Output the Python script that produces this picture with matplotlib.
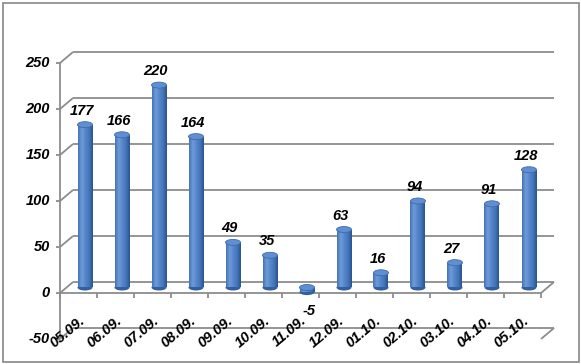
import matplotlib
matplotlib.use('Agg')
import numpy as np
import matplotlib.pyplot as plt
from matplotlib.patches import Ellipse, Rectangle
from matplotlib.colors import LinearSegmentedColormap

# data
dates = ['05.09.', '06.09.', '07.09.', '08.09.', '09.09.', '10.09.', '11.09.',
         '12.09.', '01.10.', '02.10.', '03.10.', '04.10.', '05.10.']
values = [177, 166, 220, 164, 49, 35, -5, 63, 16, 94, 27, 91, 128]
y_ticks = [-50, 0, 50, 100, 150, 200, 250]

plt.rcParams['font.family'] = ['Liberation Sans', 'DejaVu Sans']

W, H = 581, 364
fig = plt.figure(figsize=(W / 100, H / 100), dpi=100)
ax = fig.add_axes([0, 0, 1, 1])

# layout in pixels: first category edge / zero line, size of one category / one unit
x0_px, cat_px = 60, 37
y0_px, unit_px = 293, 0.92
ax.set_xlim(-x0_px / cat_px, (W - x0_px) / cat_px)
ax.set_ylim(-(H - y0_px) / unit_px, y0_px / unit_px)
ax.axis('off')

n = len(dates)
DX, DY = 13 / cat_px, 11 / unit_px   # 3D depth offset
grid_kw = dict(color='#8c8c8c', lw=1.3, solid_capstyle='butt', zorder=1)
txt_kw = dict(fontsize=10.5, fontweight='bold', fontstyle='italic', color='black')

# back wall gridlines with left diagonals
for t in y_ticks:
    ax.plot([DX, n + DX], [t + DY, t + DY], **grid_kw)
    ax.plot([0, DX], [t, t + DY], **grid_kw)
# bottom floor right edge
ax.plot([n, n + DX], [y_ticks[0], y_ticks[0] + DY], **grid_kw)

# zero floor front edge with ticks
ax.plot([0, n], [0, 0], **grid_kw)
ax.plot([n, n + DX], [0, DY], **grid_kw)
for i in range(n + 1):
    ax.plot([i, i], [0, -5 / unit_px], **grid_kw)

# value axis
ax.plot([0, 0], [y_ticks[0], y_ticks[-1]], **grid_kw)
for t in y_ticks:
    ax.plot([-4 / cat_px, 0], [t, t], **grid_kw)
    ax.text(-10 / cat_px, t, str(t), ha='right', va='center', **txt_kw)

# cylinder bars
cmap = LinearSegmentedColormap.from_list(
    'cyl', ['#4472b5', '#6e9cd9', '#5686c9', '#4376ba', '#2b538e'])
grad = np.linspace(0, 1, 64).reshape(1, -1)
bw = 15 / cat_px
eh = 6 / unit_px
for i, v in enumerate(values):
    cx = i + 0.5 + DX / 2
    base = DY / 2
    top = v + DY / 2
    lo, hi = min(base, top), max(base, top)
    ax.add_patch(Ellipse((cx, lo), bw, eh, facecolor='#32609f',
                         edgecolor='none', zorder=2))
    rect = Rectangle((cx - bw / 2, lo), bw, hi - lo, facecolor='none',
                     edgecolor='none', zorder=3)
    ax.add_patch(rect)
    im = ax.imshow(grad, cmap=cmap, aspect='auto', zorder=3,
                   extent=(cx - bw / 2, cx + bw / 2, lo, hi))
    im.set_clip_path(rect)
    ax.add_patch(Ellipse((cx, hi), bw, eh, facecolor='#5f8fd1',
                         edgecolor='#3d6cae', lw=0.6, zorder=4))
    if v >= 0:
        ax.text(i + 0.5 + DX / 4, top + eh / 2 + 4 / unit_px, str(v),
                ha='center', va='bottom', zorder=5, **txt_kw)
    else:
        ax.text(cx + 0.05, lo - eh / 2 - 9 / unit_px, str(v),
                ha='center', va='top', zorder=5, **txt_kw)

# category labels
for i, d in enumerate(dates):
    ax.text(i + 0.5, -22, d, ha='right', va='top', rotation=40,
            rotation_mode='anchor', zorder=5, **txt_kw)

# outer chart border
fig.add_artist(Rectangle((3 / W, 2 / H), 576 / W, 359 / H,
                         transform=fig.transFigure, fill=False,
                         edgecolor='#868686', lw=1.2))

fig.savefig('out.png', dpi=100)
plt.close(fig)
